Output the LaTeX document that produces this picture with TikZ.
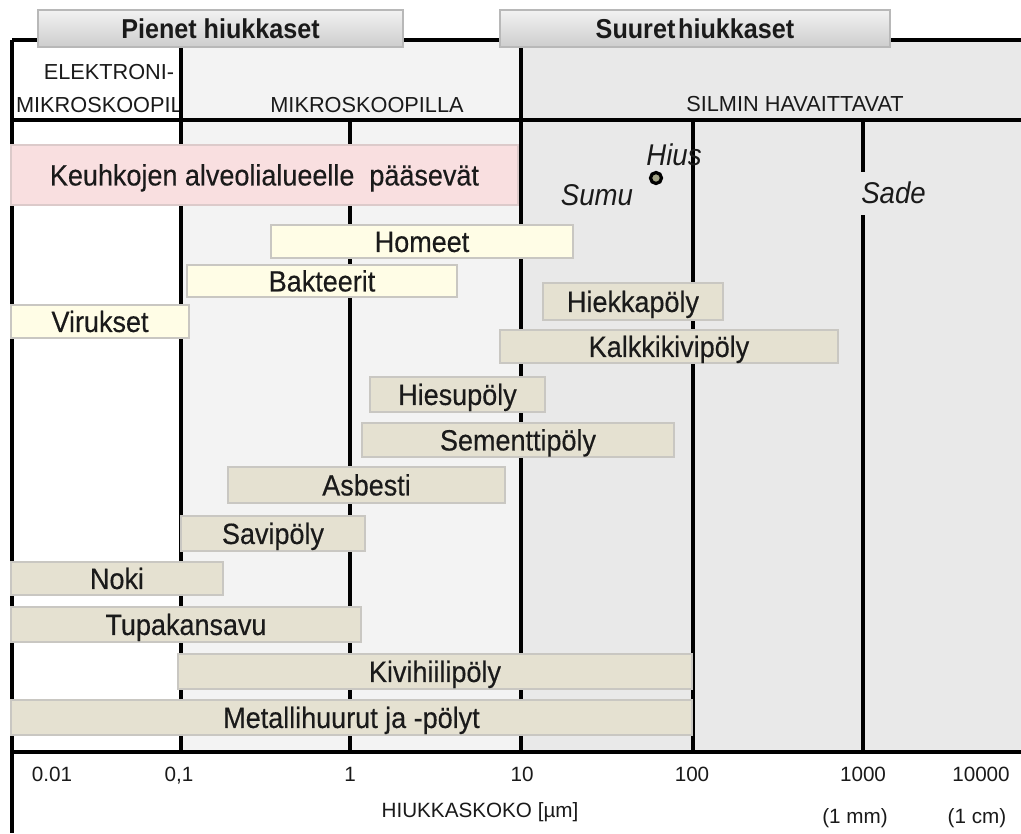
\documentclass[tikz,border=0pt]{standalone}
\usepackage{fontspec}
\setmainfont{Liberation Sans}
\newfontfamily\condfont[FakeStretch=0.92]{Liberation Sans}
\newfontfamily\barfont[FakeStretch=0.92,FakeBold=0.35]{Liberation Sans}
\definecolor{bgmid}{HTML}{F3F3F3}
\definecolor{bgright}{HTML}{E9E9E9}
\definecolor{pinkbar}{HTML}{F9DFE0}
\definecolor{creambar}{HTML}{FFFDE6}
\definecolor{beigebar}{HTML}{E5E1D1}
\definecolor{barline}{HTML}{C9C7C2}
\definecolor{pinkline}{HTML}{DCCACA}
\definecolor{tabtop}{HTML}{F2F2F2}
\definecolor{tabbot}{HTML}{CDCDCD}
\definecolor{tabline}{HTML}{B8B8B8}
\definecolor{txt}{HTML}{1A1A1A}
\definecolor{hiusfill}{HTML}{A3A386}
\newcommand{\barnode}[8]{%
  \node[barbox, draw=#3, fill=#2,
        minimum width={(#6-#4)*0.75pt}, minimum height={(#7-#5)*0.75pt}]
        (#1) at ({(#4+#6)/2},{(#5+#7)/2}) {#8};}
\begin{document}
\begin{tikzpicture}[x=0.75pt,y=-0.75pt,
  gridline/.style={line width=2.4pt, black},
  barbox/.style={line width=1.5pt, inner sep=0pt, text=txt,
     font=\barfont\fontsize{22}{26}\selectfont, text height=15.7pt, text depth=0pt},
  headlbl/.style={inner sep=0pt, text=txt, font=\fontsize{16.3}{19}\selectfont,
     text height=11.7pt, text depth=0pt},
  axislbl/.style={inner sep=0pt, text=txt, font=\fontsize{15.5}{18}\selectfont,
     text height=11.1pt, text depth=0pt},
  tabbox/.style={draw=tabline, line width=1pt, top color=tabtop, bottom color=tabbot,
     inner sep=0pt, text=txt, font=\condfont\fontsize{20.5}{24}\selectfont\bfseries,
     text height=14.7pt, text depth=0pt},
  ital/.style={inner sep=0pt, text=txt, font=\condfont\fontsize{22.5}{26}\selectfont\itshape,
     text height=16.1pt, text depth=0pt}]
\useasboundingbox (0,0) rectangle (1021,833);
\fill[white] (0,0) rectangle (1021,833);
% backgrounds
\fill[bgmid] (181,40) rectangle (520,752);
\fill[bgright] (520,40) rectangle (1021,752);
% header labels
\node[headlbl] (elek) at (109,71.5) {ELEKTRONI-};
\node[headlbl, anchor=east] (mikro1) at (183,104.5) {MIKROSKOOPIL};
\node[headlbl] (mikro2) at (367,104.5) {MIKROSKOOPILLA};
\node[headlbl] (silmin) at (795,103.5) {SILMIN HAVAITTAVAT};
% grid
\draw[gridline] (12,40) -- (1021,40);
\draw[gridline] (12,120) -- (1021,120);
\draw[gridline] (12,752) -- (1021,752);
\draw[gridline] (12,40) -- (12,833);
\draw[gridline, line width=3pt] (181,40) -- (181,752);
\draw[gridline, line width=3pt] (520.5,40) -- (520.5,752);
\draw[gridline, line width=3pt] (350,120) -- (350,752);
\draw[gridline, line width=3pt] (692.5,120) -- (692.5,752);
\draw[gridline, line width=3pt] (863,120) -- (863,752);
% bars
\barnode{keuhko}{pinkbar}{pinkline}{11}{145}{518}{205}{Keuhkojen alveolialueelle \ pääsevät}
\barnode{homeet}{creambar}{barline}{271}{225}{573}{258}{Homeet}
\barnode{bakteerit}{creambar}{barline}{187}{265}{457}{297}{Bakteerit}
\barnode{virukset}{creambar}{barline}{11}{305}{189}{338}{Virukset}
\barnode{hiekka}{beigebar}{barline}{543}{283}{723}{320}{Hiekkapöly}
\barnode{kalkki}{beigebar}{barline}{500}{330}{838}{363}{Kalkkikivipöly}
\barnode{hiesu}{beigebar}{barline}{370}{377}{545}{412}{Hiesupöly}
\barnode{sementti}{beigebar}{barline}{362}{423}{674}{457}{Sementtipöly}
\barnode{asbesti}{beigebar}{barline}{228}{467}{505}{503}{Asbesti}
\barnode{savi}{beigebar}{barline}{181}{516}{365}{551}{Savipöly}
\barnode{noki}{beigebar}{barline}{11}{562}{223}{595}{Noki}
\barnode{tupakka}{beigebar}{barline}{11}{607}{361}{642}{Tupakansavu}
\barnode{kivihiili}{beigebar}{barline}{178}{654}{692}{689}{Kivihiilipöly}
\barnode{metalli}{beigebar}{barline}{11}{700}{692}{735}{Metallihuurut ja -pölyt}
% tabs
\node[tabbox, minimum width={365*0.75pt}, minimum height={37*0.75pt}] (pienet) at (220.5,28.5) {Pienet hiukkaset};
\node[tabbox, minimum width={390*0.75pt}, minimum height={37*0.75pt}] (suuret) at (695,28.5) {Suuret\kern-0.15em\ hiukkaset};
% italic labels
\node[ital] (sumu) at (597,195) {Sumu};
\node[ital, anchor=west, fill=bgright, inner xsep=1.5pt, minimum height={43*0.75pt}] (sade) at (859,193) {Sade};
\node[ital] (hius) at (674,155) {Hius};
\node[circle, draw=black, line width=2.4pt, fill=hiusfill, inner sep=0pt, minimum size={11*0.75pt}] (hiusdot) at (656,178) {};
% axis labels
\node[axislbl] (t001) at (52,774) {0.01};
\node[axislbl] (t01) at (179,774) {0,1};
\node[axislbl] (t1) at (350,774) {1};
\node[axislbl] (t10) at (522,774) {10};
\node[axislbl] (t100) at (692,774) {100};
\node[axislbl] (t1000) at (863,774) {1000};
\node[axislbl] (t10000) at (981,774) {10000};
\node[axislbl] (koko) at (480,810) {HIUKKASKOKO [µm]};
\node[axislbl] (mm) at (855,816) {(1 mm)};
\node[axislbl] (cm) at (977,816) {(1 cm)};
\end{tikzpicture}
\end{document}
